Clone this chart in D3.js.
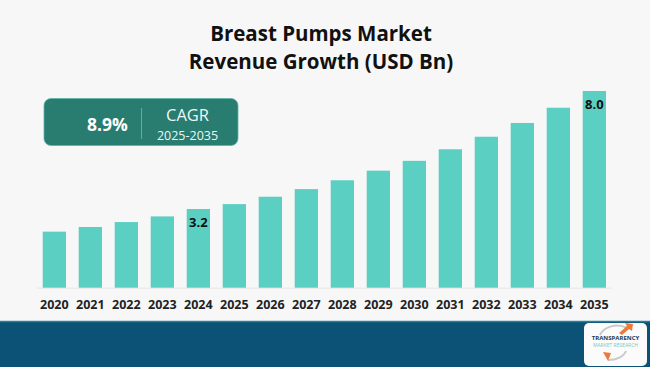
<!DOCTYPE html>
<html>
<head>
<meta charset="utf-8">
<script src="https://cdn.jsdelivr.net/npm/d3@7"></script>
<style>
  html, body { margin: 0; padding: 0; background: #f7f7f7; }
  svg { display: block; }
</style>
</head>
<body>
<svg id="chart"></svg>
<script>
// data
const years = ["2020", "2021", "2022", "2023", "2024", "2025", "2026", "2027",
  "2028", "2029", "2030", "2031", "2032", "2033", "2034", "2035"];
const revenue = [2.28, 2.47, 2.67, 2.9, 3.2, 3.4, 3.7, 4.01, 4.37, 4.76, 5.16,
  5.63, 6.14, 6.7, 7.32, 8.0];
const labelledYears = ["2024", "2035"];
const titleLines = ["Breast Pumps Market", "Revenue Growth (USD Bn)"];
const cagrValue = "8.9%";
const cagrText = ["CAGR", "2025-2035"];

const width = 650;
const height = 367;
const svg = d3.select("#chart").attr("width", width).attr("height", height);

svg.append("rect").attr("width", width).attr("height", height).attr("fill", "#f7f7f7");

// title
svg.selectAll(".title")
  .data(titleLines)
  .enter()
  .append("text")
  .attr("class", "title")
  .attr("x", 321)
  .attr("y", (d, i) => 41 + i * 28)
  .attr("text-anchor", "middle")
  .style("font-family", "'Open Sans', sans-serif")
  .style("font-weight", "700")
  .style("font-size", "20.5px")
  .style("fill", "#111")
  .text((d) => d);

// scales
const x = d3.scaleBand().domain(years).range([36.35, 612.35])
  .paddingInner(0.353).paddingOuter(0.1765);
const y = d3.scaleLinear().domain([0, 8]).range([287.7, 91]);

// baseline
svg.append("line")
  .attr("x1", 37).attr("x2", 612)
  .attr("y1", y(0) + 0.5).attr("y2", y(0) + 0.5)
  .attr("stroke", "#e6e6e6").attr("stroke-width", 1);

svg.selectAll(".bar")
  .data(revenue)
  .enter()
  .append("rect")
  .attr("class", "bar")
  .attr("x", (d, i) => x(years[i]))
  .attr("y", (d) => y(d))
  .attr("width", x.bandwidth())
  .attr("height", (d) => y(0) - y(d))
  .attr("fill", "#5ccfc3");

// value labels inside two bars
svg.selectAll(".val")
  .data(labelledYears)
  .enter()
  .append("text")
  .attr("class", "val")
  .attr("x", (d) => x(d) + x.bandwidth() / 2)
  .attr("y", (d) => y(revenue[years.indexOf(d)]) + 13)
  .attr("dy", "0.35em")
  .attr("text-anchor", "middle")
  .style("font-family", "'Open Sans', sans-serif")
  .style("font-weight", "700")
  .style("font-size", "13px")
  .style("fill", "#111")
  .text((d) => revenue[years.indexOf(d)].toFixed(1));

// x axis labels
const xAxis = svg.append("g")
  .attr("transform", `translate(0,${y(0)})`)
  .call(d3.axisBottom(x).tickSize(0).tickPadding(12));
xAxis.select(".domain").remove();
xAxis.selectAll("text")
  .style("font-family", "'Open Sans', sans-serif")
  .style("font-weight", "700")
  .style("font-size", "12.5px")
  .style("fill", "#222");

// CAGR box
const box = svg.append("g");
box.append("rect")
  .attr("x", 44).attr("y", 98.5)
  .attr("width", 194).attr("height", 47)
  .attr("rx", 7)
  .attr("fill", "#287d70")
  .attr("stroke", "#5fb3a6").attr("stroke-width", 0.8);
box.append("line")
  .attr("x1", 141.5).attr("x2", 141.5)
  .attr("y1", 108).attr("y2", 139)
  .attr("stroke", "#6aa89e").attr("stroke-width", 1);
box.append("text")
  .attr("x", 107.5).attr("y", 131)
  .attr("text-anchor", "middle")
  .style("font-family", "'Open Sans', sans-serif")
  .style("font-weight", "700")
  .style("font-size", "17.5px")
  .style("fill", "#fff")
  .text(cagrValue);
box.selectAll(".cagr")
  .data(cagrText)
  .enter()
  .append("text")
  .attr("class", "cagr")
  .attr("x", 187.5)
  .attr("y", (d, i) => (i === 0 ? 121.2 : 139.7))
  .attr("text-anchor", "middle")
  .style("font-family", "'Open Sans', sans-serif")
  .style("font-size", (d, i) => (i === 0 ? "16.5px" : "12.5px"))
  .style("fill", "#eef7f5")
  .text((d) => d);

// footer band
svg.append("rect")
  .attr("x", 0).attr("y", 321)
  .attr("width", width).attr("height", height - 321)
  .attr("fill", "#0b5276");
svg.append("line")
  .attr("x1", 0).attr("x2", width)
  .attr("y1", 321.5).attr("y2", 321.5)
  .attr("stroke", "#2c7f9b").attr("stroke-width", 1.5);

// logo
const logo = svg.append("g");
logo.append("rect")
  .attr("x", 584).attr("y", 323)
  .attr("width", 63).attr("height", 43)
  .attr("rx", 5)
  .attr("fill", "#fbfbfb");
logo.append("path")
  .attr("d", "M600,335 A18,14 0 0 1 627,328")
  .attr("fill", "none").attr("stroke", "#c9c9c9").attr("stroke-width", 2);
logo.append("path")
  .attr("d", "M619,333 L627,326 L625,323 L633,324 L632,331 L629,329 L622,335 Z")
  .attr("fill", "#ee7a3a");
logo.append("text")
  .attr("x", 615.5).attr("y", 339.5)
  .attr("text-anchor", "middle")
  .style("font-family", "'Open Sans', sans-serif")
  .style("font-weight", "700")
  .style("font-size", "6px")
  .style("fill", "#163a5c")
  .text("TRANSPARENCY");
logo.append("text")
  .attr("x", 615.5).attr("y", 347.3)
  .attr("text-anchor", "middle")
  .style("font-family", "'Open Sans', sans-serif")
  .style("font-size", "5px")
  .style("fill", "#78c8c0")
  .text("MARKET RESEARCH");
logo.append("path")
  .attr("d", "M626,351 A18,12 0 0 1 608,360")
  .attr("fill", "none").attr("stroke", "#c9c9c9").attr("stroke-width", 2);
logo.append("path")
  .attr("d", "M603,352 L611,353 L608,361 Z")
  .attr("fill", "#ee7a3a");
</script>
</body>
</html>
